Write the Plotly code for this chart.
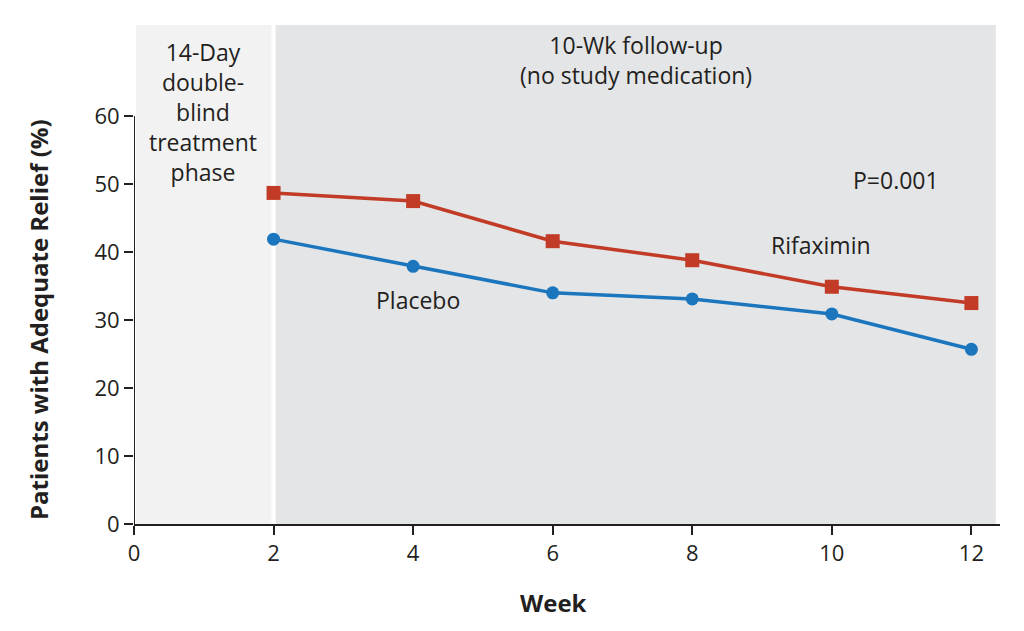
import plotly.graph_objects as go

weeks = [2, 4, 6, 8, 10, 12]
rifaximin = [48.7, 47.5, 41.6, 38.8, 34.9, 32.5]
placebo = [41.9, 37.9, 34.0, 33.1, 30.9, 25.7]
x_ticks = [0, 2, 4, 6, 8, 10, 12]
y_ticks = [0, 10, 20, 30, 40, 50, 60]

RED = "#c23b26"
BLUE = "#1b76bd"
FONT = "Open Sans"
TXT = "#231f20"

fig = go.Figure()
fig.add_trace(go.Scatter(x=weeks, y=placebo, mode="lines+markers", name="Placebo",
                         line=dict(color=BLUE, width=3.5),
                         marker=dict(symbol="circle", size=13, color=BLUE)))
fig.add_trace(go.Scatter(x=weeks, y=rifaximin, mode="lines+markers", name="Rifaximin",
                         line=dict(color=RED, width=3.5),
                         marker=dict(symbol="square", size=14, color=RED)))

YTOP = 73.4
XMAX = 12.41
shapes = [
    dict(type="rect", xref="x", yref="y", x0=0.03, x1=1.97, y0=0, y1=YTOP,
         fillcolor="#f2f2f2", line=dict(width=0), layer="below"),
    dict(type="rect", xref="x", yref="y", x0=2.03, x1=12.35, y0=0, y1=YTOP,
         fillcolor="#e4e5e7", line=dict(width=0), layer="below"),
    dict(type="line", xref="x", yref="y", x0=0, x1=0, y0=0, y1=60,
         line=dict(color=TXT, width=2), layer="above"),
]
fig.update_layout(shapes=shapes)

LBL = dict(size=23, color=TXT, family=FONT)
annotations = [
    dict(x=0.99, y=60.6, xref="x", yref="y", text="14-Day<br>double-<br>blind<br>treatment<br>phase",
         showarrow=False, font=LBL, align="center"),
    dict(x=7.19, y=68.2, xref="x", yref="y", text="10-Wk follow-up<br>(no study medication)",
         showarrow=False, font=LBL, align="center"),
    dict(x=10.92, y=50.6, xref="x", yref="y", text="P=0.001", showarrow=False, font=LBL),
    dict(x=9.84, y=41.0, xref="x", yref="y", text="Rifaximin", showarrow=False, font=LBL),
    dict(x=4.07, y=32.9, xref="x", yref="y", text="Placebo", showarrow=False, font=LBL),
    dict(x=(38 - 134) / 866, y=(524 - 320) / 499, xref="paper", yref="paper",
         xanchor="center", yanchor="middle",
         text="<b>Patients with Adequate Relief (%)</b>", textangle=-90,
         showarrow=False, font=dict(size=24, color=TXT, family=FONT)),
    dict(x=(553 - 134) / 866, y=-(602 - 524) / 499, xref="paper", yref="paper",
         xanchor="center", yanchor="middle",
         text="<b>Week</b>", showarrow=False, font=dict(size=24, color=TXT, family=FONT)),
]

fig.update_layout(
    width=1024, height=631,
    margin=dict(l=126, r=32, t=17, b=115),
    paper_bgcolor="white", plot_bgcolor="white",
    showlegend=False,
    annotations=annotations,
    font=dict(family=FONT, color=TXT),
    xaxis=dict(range=[0, XMAX], tickvals=x_ticks, ticktext=[str(v) for v in x_ticks],
               showgrid=False, zeroline=False, showline=True, linecolor=TXT, linewidth=2,
               ticks="outside", ticklen=9, tickwidth=2, tickcolor=TXT,
               tickfont=dict(size=22, family=FONT, color=TXT)),
    yaxis=dict(range=[0, YTOP], tickvals=y_ticks, ticktext=[str(v) for v in y_ticks],
               showgrid=False, zeroline=False, showline=False,
               ticks="outside", ticklen=9, tickwidth=2, tickcolor=TXT,
               tickfont=dict(size=22, family=FONT, color=TXT)),
)

fig.write_html("out.html")
